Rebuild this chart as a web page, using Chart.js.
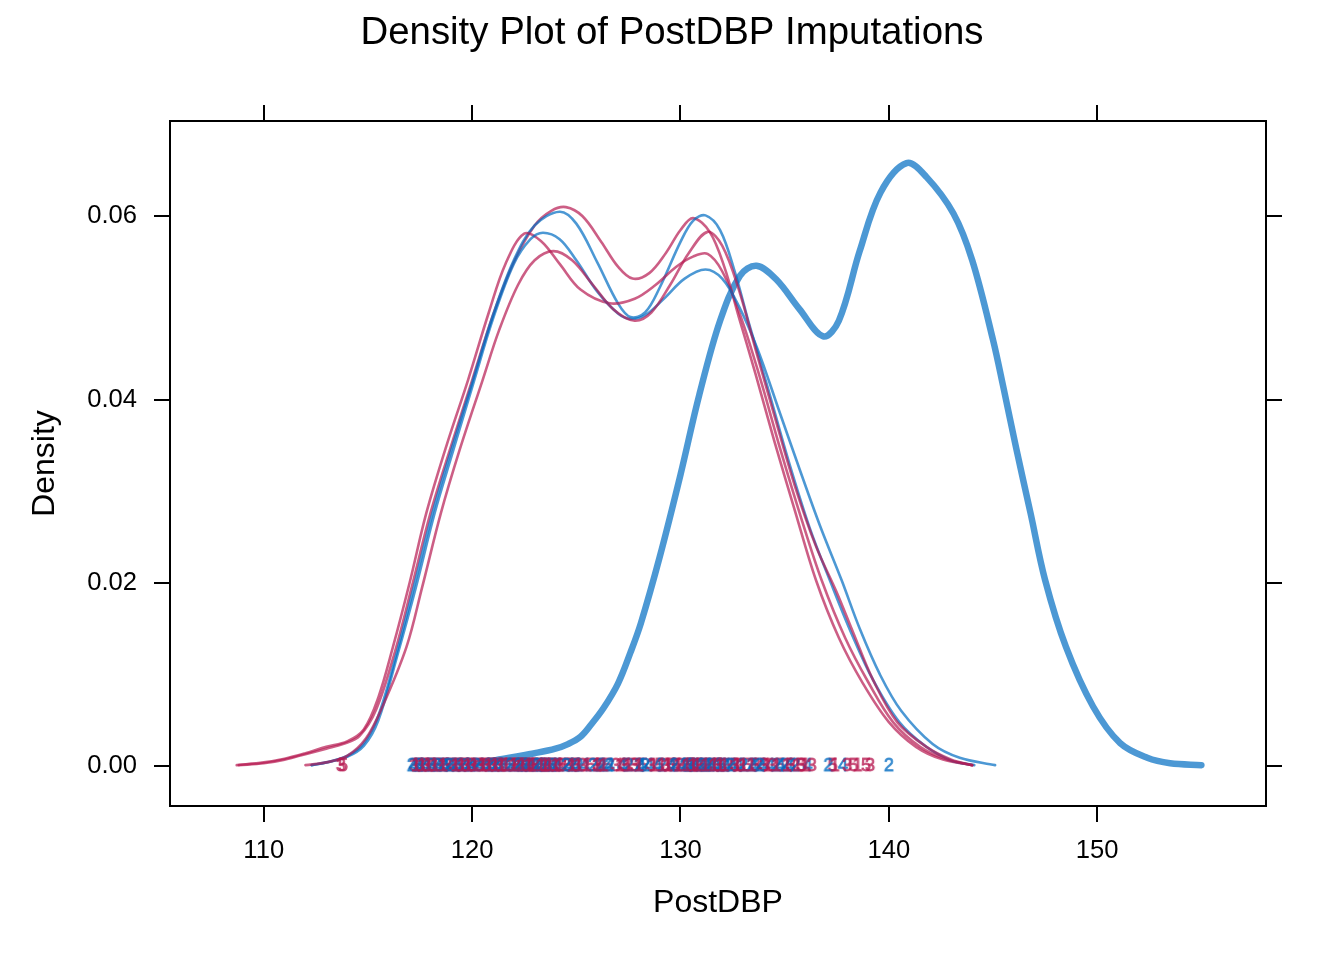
<!DOCTYPE html>
<html>
<head>
<meta charset="utf-8">
<title>Density Plot of PostDBP Imputations</title>
<script src="https://cdn.jsdelivr.net/npm/chart.js@4/dist/chart.umd.min.js"></script>
<style>
  html, body { margin: 0; padding: 0; background: #fff; }
  #wrap { width: 1344px; height: 960px; position: relative; }
</style>
</head>
<body>
<div id="wrap"><canvas id="densityChart"></canvas></div>
<script>
// ========= Data =========
const xTicks = [110, 120, 130, 140, 150];
const yTicks = [0, 0.02, 0.04, 0.06];

// observed data (thick line)
const obsX = [119.9, 121, 122, 123, 124, 124.6, 125.2, 125.7, 126.3, 127, 127.6, 128.1, 129, 130, 130.9, 131.9, 132.85, 133.65, 134.6, 135.7, 136.85, 137.6, 138.6, 139.6, 140.85, 141.8, 143.1, 144, 145, 145.5, 146.1, 146.8, 147.5, 148.5, 149.8, 151.1, 152.4, 153.5, 155];
const obsY = [0.0001, 0.0006, 0.0010, 0.0014, 0.0019, 0.0024, 0.0032, 0.0045, 0.0063, 0.0090, 0.0124, 0.0156, 0.0228, 0.0318, 0.0405, 0.0486, 0.0535, 0.0546, 0.0531, 0.0499, 0.0469, 0.0486, 0.0562, 0.0626, 0.0658, 0.0643, 0.0603, 0.0552, 0.0465, 0.0413, 0.0348, 0.0276, 0.0203, 0.0130, 0.0065, 0.0025, 0.0009, 0.0003, 0.0001];

// imputation 1 (red)
const imp1X = [112, 113, 114, 114.9, 115.7, 116.85, 117.6, 118.5, 119.4, 120.5, 121.3, 122.2, 123, 123.9, 124.8, 125.8, 126.8, 127.8, 128.6, 129.5, 130.4, 131.3, 132, 132.8, 133.6, 134.5, 135.5, 136.5, 137.49, 138.3, 139.24, 140.4, 141.8, 143, 144];
const imp1Y = [0.0001, 0.0004, 0.0011, 0.0030, 0.0065, 0.0130, 0.0195, 0.0276, 0.0345, 0.0421, 0.0476, 0.0525, 0.0552, 0.0562, 0.0552, 0.0525, 0.0498, 0.0486, 0.0495, 0.0525, 0.0560, 0.0583, 0.0568, 0.0520, 0.0455, 0.0383, 0.0305, 0.0240, 0.0190, 0.0145, 0.0094, 0.0048, 0.0021, 0.0007, 0.0001];

// imputation 2 (blue)
const imp2X = [112.3, 113, 114, 114.8, 115.5, 116.4, 117.3, 118.2, 119.1, 120.1, 121, 122, 122.8, 123.4, 124.2, 125, 126, 127, 127.6, 128.3, 129.2, 130.2, 131.2, 132, 132.8, 133.7, 134.7, 135.7, 136.7, 137.73, 138.6, 139.57, 140.6, 142.1, 143.4, 145.1];
const imp2Y = [0.0001, 0.0004, 0.0010, 0.0022, 0.0050, 0.0120, 0.0195, 0.0276, 0.0345, 0.0421, 0.0488, 0.0548, 0.0575, 0.0582, 0.0575, 0.0552, 0.0518, 0.0494, 0.0488, 0.0492, 0.0510, 0.0532, 0.0542, 0.0532, 0.0502, 0.0455, 0.0390, 0.0325, 0.0262, 0.0203, 0.0150, 0.0100, 0.0060, 0.0024, 0.0009, 0.0001];

// imputation 3 (red)
const imp3X = [108.7, 110, 111, 112, 113, 114, 114.8, 115.5, 116.2, 117, 117.8, 118.8, 119.8, 120.8, 121.6, 122.5, 123.3, 124.2, 125.2, 126.6, 127.8, 128.8, 129.8, 130.6, 131.3, 132, 132.9, 133.8, 134.8, 135.8, 136.77, 137.9, 139, 140.2, 141.5, 142.8, 144];
const imp3Y = [0.0001, 0.0004, 0.0008, 0.0014, 0.0021, 0.0027, 0.0040, 0.0075, 0.0130, 0.0200, 0.0276, 0.0352, 0.0421, 0.0495, 0.0548, 0.0581, 0.0573, 0.0548, 0.0520, 0.0505, 0.0510, 0.0525, 0.0545, 0.0556, 0.0559, 0.0540, 0.0490, 0.0425, 0.0345, 0.0270, 0.0203, 0.0140, 0.0092, 0.0048, 0.0021, 0.0007, 0.0001];

// imputation 4 (blue)
const imp4X = [112.3, 113, 114, 114.8, 115.5, 116.4, 117.2, 118.1, 119, 120, 121, 122, 123, 124.2, 125, 126, 127, 127.6, 128.3, 129, 130, 130.6, 131.2, 131.9, 132.6, 133.3, 134.2, 135.2, 136.2, 137.25, 138.2, 139.24, 140.5, 141.8, 143, 144.1];
const imp4Y = [0.0001, 0.0004, 0.0011, 0.0025, 0.0055, 0.0125, 0.0195, 0.0276, 0.0345, 0.0418, 0.0492, 0.0552, 0.0590, 0.0605, 0.0592, 0.0550, 0.0505, 0.0490, 0.0495, 0.0522, 0.0572, 0.0595, 0.0601, 0.0585, 0.0540, 0.0482, 0.0412, 0.0332, 0.0260, 0.0198, 0.0145, 0.0094, 0.0048, 0.0021, 0.0006, 0.0001];

// imputation 5 (red)
const imp5X = [108.8, 110, 111, 112, 113, 113.8, 114.6, 115.4, 116.3, 117.1, 118, 119, 120, 121, 122, 123, 123.8, 124.5, 125.3, 126.2, 127, 127.7, 128.5, 129.3, 130, 130.6, 131.4, 132.1, 132.8, 133.6, 134.5, 135.5, 136.5, 137.6, 138.76, 140, 141.3, 142.6, 144];
const imp5Y = [0.0001, 0.0003, 0.0007, 0.0013, 0.0019, 0.0024, 0.0033, 0.0062, 0.0125, 0.0195, 0.0276, 0.0350, 0.0421, 0.0492, 0.0550, 0.0590, 0.0606, 0.0610, 0.0600, 0.0572, 0.0545, 0.0532, 0.0538, 0.0560, 0.0585, 0.0598, 0.0583, 0.0545, 0.0490, 0.0428, 0.0355, 0.0278, 0.0203, 0.0140, 0.0090, 0.0048, 0.0021, 0.0007, 0.0001];

// imputed values, drawn as their imputation number along y = 0
const rug1 = [117.3, 117.6, 117.9, 118.2, 118.6, 119.2, 119.5, 119.8, 120.1, 120.5, 120.8, 121.1, 121.4, 121.6, 122.0, 122.4, 122.7, 122.9, 123.3, 123.5, 123.7, 124.0, 124.2, 124.8, 125.1, 125.5, 126.0, 126.3, 127.1, 127.5, 128.0, 128.7, 129.1, 129.4, 129.9, 130.3, 130.6, 130.8, 131.2, 131.6, 131.9, 132.1, 132.7, 133.0, 133.4, 134.2, 134.6, 135.1, 135.6, 136.0, 137.4, 138.5];
const rug2 = [117.1, 117.4, 117.6, 118.0, 118.3, 118.6, 118.9, 119.2, 119.5, 119.8, 120.2, 120.8, 121.1, 121.4, 121.8, 122.2, 122.5, 122.7, 123.1, 123.3, 123.5, 123.8, 124.0, 124.5, 124.8, 125.1, 125.8, 126.2, 126.6, 127.5, 128.0, 128.3, 129.1, 129.7, 130.2, 130.4, 130.6, 131.0, 131.2, 131.4, 131.9, 132.1, 132.4, 133.0, 133.4, 133.8, 134.6, 135.0, 135.5, 137.1, 140.0];
const rug3 = [113.7, 117.2, 117.5, 117.8, 118.1, 118.4, 118.8, 119.1, 119.4, 119.7, 120.0, 120.4, 120.7, 121.0, 121.3, 121.9, 122.1, 122.3, 122.6, 122.8, 123.0, 123.4, 123.6, 123.9, 124.2, 124.6, 125.0, 125.3, 126.0, 126.9, 127.3, 127.8, 128.6, 129.3, 129.7, 130.0, 130.5, 130.9, 131.0, 131.3, 131.8, 132.3, 132.6, 132.9, 133.6, 134.0, 134.4, 135.3, 135.8, 136.3, 138.0, 139.1];
const rug4 = [117.2, 117.5, 117.8, 118.1, 118.4, 118.7, 119.0, 119.3, 119.7, 120.0, 120.4, 120.7, 121.0, 121.3, 121.7, 122.1, 122.3, 122.5, 122.8, 123.0, 123.2, 123.6, 123.9, 124.1, 124.7, 125.0, 125.4, 126.2, 126.6, 127.2, 128.1, 128.5, 128.9, 129.6, 130.1, 130.4, 130.7, 130.9, 131.3, 131.5, 131.7, 132.2, 132.5, 132.8, 133.5, 133.9, 134.3, 134.8, 135.2, 136.1, 137.8];
const rug5 = [113.8, 117.4, 117.7, 118.0, 118.3, 118.7, 118.9, 119.3, 119.6, 119.9, 120.3, 120.6, 120.9, 121.2, 121.5, 121.8, 122.2, 122.4, 122.6, 122.9, 123.0, 123.3, 123.5, 123.8, 124.3, 124.6, 125.0, 125.7, 126.1, 126.5, 127.4, 127.8, 128.2, 129.0, 129.5, 129.8, 130.3, 130.5, 130.7, 131.1, 131.5, 131.8, 132.0, 132.6, 133.2, 133.6, 134.0, 134.8, 135.3, 135.8, 137.3, 138.3, 138.9];

// mice colours, alpha 0.7
const colors = {
  blue: 'rgba(0, 108, 194, 0.7)',
  red: 'rgba(182, 26, 81, 0.7)'
};

const FONT = "'Liberation Sans', Arial, Helvetica, sans-serif";

const toPoints = (xs, ys) => xs.map((x, i) => ({ x: x, y: ys[i] }));
const toRug = (xs) => xs.map(x => ({ x: x, y: 0 }));

// digit used as a point symbol
function digitImage(d, color) {
  const c = document.createElement('canvas');
  c.width = 14;
  c.height = 20;
  const g = c.getContext('2d');
  g.font = '18px ' + FONT;
  g.fillStyle = color;
  g.strokeStyle = color;
  g.lineWidth = 0.8;
  g.textAlign = 'center';
  g.textBaseline = 'middle';
  g.fillText(String(d), 7, 10.5);
  g.strokeText(String(d), 7, 10.5);
  return c;
}

const densityLine = (label, pts, color, width) => ({
  label: label,
  data: pts,
  showLine: true,
  borderColor: color,
  backgroundColor: color,
  borderWidth: width,
  pointRadius: 0,
  tension: 0.35,
  borderCapStyle: 'round',
  borderJoinStyle: 'round',
  order: width > 3 ? 2 : 1
});

const rugSet = (label, xs, d, color) => ({
  label: label,
  data: toRug(xs),
  showLine: false,
  pointStyle: digitImage(d, color),
  pointRadius: 7,
  order: 0
});

// fixed box sizes so the panel lands where the reference has it
const fixW = (w) => (scale) => { scale.width = w; };
const fixH = (h) => (scale) => { scale.height = h; };

const axisCommon = {
  border: { display: true, color: '#000', width: 2 },
  grid: { drawOnChartArea: false, drawTicks: true, tickLength: 16, color: '#000', lineWidth: 2 }
};

// ========= Density Chart =========
const ctx = document.getElementById('densityChart');
new Chart(ctx, {
  type: 'scatter',
  data: {
    datasets: [
      rugSet('1', rug1, 1, colors.red),
      rugSet('2', rug2, 2, colors.blue),
      rugSet('3', rug3, 3, colors.red),
      rugSet('4', rug4, 4, colors.blue),
      rugSet('5', rug5, 5, colors.red),
      densityLine('imp 1', toPoints(imp1X, imp1Y), colors.red, 2.6),
      densityLine('imp 2', toPoints(imp2X, imp2Y), colors.blue, 2.6),
      densityLine('imp 3', toPoints(imp3X, imp3Y), colors.red, 2.6),
      densityLine('imp 4', toPoints(imp4X, imp4Y), colors.blue, 2.6),
      densityLine('imp 5', toPoints(imp5X, imp5Y), colors.red, 2.6),
      densityLine('observed', toPoints(obsX, obsY), colors.blue, 6.5)
    ]
  },
  options: {
    responsive: true,
    maintainAspectRatio: false,
    animation: false,
    events: [],
    layout: { padding: 0 },
    plugins: {
      legend: { display: false },
      tooltip: { enabled: false },
      title: {
        display: true,
        text: 'Density Plot of PostDBP Imputations',
        color: '#000',
        font: { family: FONT, size: 38.4, weight: 'normal' },
        padding: { top: 10, bottom: 0 }
      }
    },
    scales: {
      x: {
        ...axisCommon,
        type: 'linear',
        position: 'bottom',
        min: 105.5,
        max: 158.1,
        afterBuildTicks: (s) => { s.ticks = xTicks.map(v => ({ value: v })); },
        afterFit: fixH(154),
        ticks: {
          color: '#000',
          padding: 14,
          maxRotation: 0,
          font: { family: FONT, size: 25.6 },
          callback: (v) => String(v)
        },
        title: {
          display: true,
          text: 'PostDBP',
          color: '#000',
          font: { family: FONT, size: 32 },
          padding: { top: 0, bottom: 38 }
        }
      },
      x2: {
        ...axisCommon,
        type: 'linear',
        position: 'top',
        min: 105.5,
        max: 158.1,
        afterBuildTicks: (s) => { s.ticks = xTicks.map(v => ({ value: v })); },
        afterFit: fixH(121 - 56.08),
        ticks: { display: false }
      },
      y: {
        ...axisCommon,
        type: 'linear',
        position: 'left',
        min: -0.00436,
        max: 0.0704,
        afterBuildTicks: (s) => { s.ticks = yTicks.map(v => ({ value: v })); },
        afterFit: fixW(170),
        ticks: {
          color: '#000',
          padding: 17,
          font: { family: FONT, size: 25.6 },
          callback: (v) => v.toFixed(2)
        },
        title: {
          display: true,
          text: 'Density',
          color: '#000',
          font: { family: FONT, size: 32 },
          padding: { top: 26, bottom: 0 }
        }
      },
      y2: {
        ...axisCommon,
        type: 'linear',
        position: 'right',
        min: -0.00436,
        max: 0.0704,
        afterBuildTicks: (s) => { s.ticks = yTicks.map(v => ({ value: v })); },
        afterFit: fixW(1344 - 1266),
        ticks: { display: false }
      }
    }
  }
});
</script>
</body>
</html>
